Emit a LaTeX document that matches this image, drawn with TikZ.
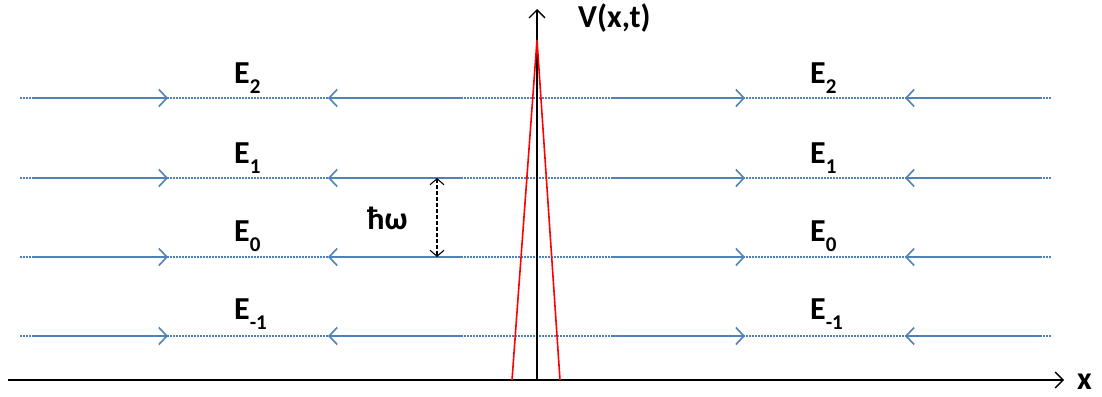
\documentclass[tikz,border=0pt]{standalone}
\usepackage{fontspec}
\setmainfont{Carlito}
\usetikzlibrary{arrows.meta}
\definecolor{lvlblue}{RGB}{79,129,189}
\newcommand{\sbx}[1]{\raisebox{-0.32em}{\fontsize{21}{21}\selectfont\bfseries #1}}
\begin{document}
\begin{tikzpicture}[x=1pt,y=-1pt,
  dotline/.style={lvlblue,line width=1.8pt,dash pattern=on 1.5pt off 1.5pt},
  wave/.style={lvlblue,line width=2pt,-{Straight Barb[length=8pt,width=17pt,line width=1.6pt]}},
  axis/.style={black,line width=1.6pt,-{Straight Barb[length=8pt,width=16pt,line width=1.3pt]}},
  lbl/.style={font=\fontsize{32}{32}\selectfont\bfseries,anchor=base west,inner sep=0pt}
]
\useasboundingbox (0,0) rectangle (1102,396);
% levels
\foreach \n/\y in {a/98,b/178,c/257,d/336}{
  \coordinate (\n0) at (20,\y);
  \coordinate (\n9) at (1052,\y);
  \coordinate (\n1) at (32,\y);
  \coordinate (\n2) at (168,\y);
  \coordinate (\n3) at (462,\y);
  \coordinate (\n4) at (328,\y);
  \coordinate (\n5) at (612,\y);
  \coordinate (\n6) at (745,\y);
  \coordinate (\n7) at (1040,\y);
  \coordinate (\n8) at (905,\y);
  \draw[dotline] (\n0) -- (\n9);
  \draw[wave] (\n1) -- (\n2);
  \draw[wave] (\n3) -- (\n4);
  \draw[wave] (\n5) -- (\n6);
  \draw[wave] (\n7) -- (\n8);
}
% labels
\node[lbl] (E2l) at (234,83) {E\sbx{2}};
\node[lbl] (E1l) at (234,163) {E\sbx{1}};
\node[lbl] (E0l) at (234,241) {E\sbx{0}};
\node[lbl] (Eml) at (234,319) {E\sbx{-1}};
\node[lbl] (E2r) at (810,83) {E\sbx{2}};
\node[lbl] (E1r) at (810,163) {E\sbx{1}};
\node[lbl] (E0r) at (810,241) {E\sbx{0}};
\node[lbl] (Emr) at (810,319) {E\sbx{-1}};
% hbar omega
\coordinate (hw1) at (437,178);
\coordinate (hw2) at (437,257);
\draw[black,line width=1.1pt,dash pattern=on 4pt off 2pt,
  {Straight Barb[length=6pt,width=14pt,line width=1.1pt]}-{Straight Barb[length=6pt,width=14pt,line width=1.1pt]}] (hw1) -- (hw2);
\node[lbl] (hw) at (367,229) {ħω};
% axes
\coordinate (o1) at (8,380);
\coordinate (o2) at (1064,380);
\coordinate (v0) at (537,380);
\coordinate (v1) at (537,9);
\draw[axis] (o1) -- (o2);
\draw[axis] (v0) -- (v1);
\node[lbl] (xl) at (1077,389) {x};
\node[lbl] (vl) at (578,28) {V(x,t)};
% barrier
\coordinate (p1) at (512,380);
\coordinate (p2) at (537,40);
\coordinate (p3) at (560,380);
\draw[red,line width=1.6pt,line join=miter] (p1) -- (p2) -- (p3);
\end{tikzpicture}
\end{document}
